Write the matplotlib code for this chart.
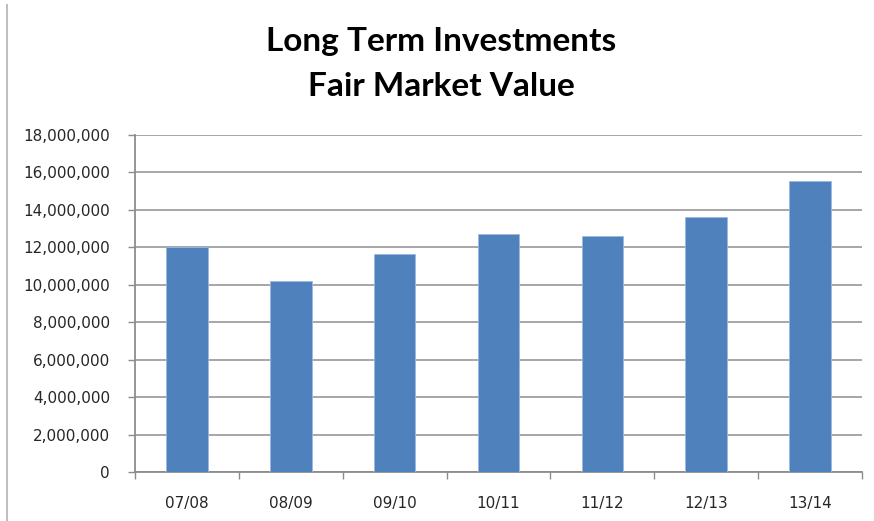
import matplotlib
matplotlib.use("Agg")
import matplotlib.pyplot as plt
from matplotlib.ticker import FuncFormatter, FixedLocator
from matplotlib.lines import Line2D

categories = ["07/08", "08/09", "09/10", "10/11", "11/12", "12/13", "13/14"]
values = [12030000, 10190000, 11650000, 12710000, 12620000, 13630000, 15540000]
yticks = [0, 2000000, 4000000, 6000000, 8000000, 10000000, 12000000, 14000000, 16000000, 18000000]
title_lines = ["Long Term Investments", "Fair Market Value"]

W, H = 874, 521
fig = plt.figure(figsize=(W / 100, H / 100), dpi=100)
fig.patch.set_facecolor("white")
ax = fig.add_axes([135 / W, 1 - 472 / H, (862 - 135) / W, (472 - 134.7) / H])

x = list(range(len(categories)))
ax.bar(x, values, width=0.4, color="#4F81BD", edgecolor="#9DB9E0", linewidth=0.6, zorder=3)

ax.set_xlim(-0.5, len(categories) - 0.5)
ax.set_ylim(yticks[0], yticks[-1])
ax.set_yticks(yticks)
ax.yaxis.set_major_formatter(FuncFormatter(lambda v, p: f"{int(v):,}"))
ax.grid(axis="y", color="#9f9f9f", linewidth=1.3, zorder=0)
ax.set_axisbelow(True)

ax.xaxis.set_major_locator(FixedLocator([i - 0.5 for i in range(len(categories) + 1)]))
ax.xaxis.set_major_formatter(FuncFormatter(lambda v, p: ""))
ax.xaxis.set_minor_locator(FixedLocator(x))
ax.set_xticklabels(categories, minor=True)

for s in ["top", "right"]:
    ax.spines[s].set_visible(False)
for s in ["left", "bottom"]:
    ax.spines[s].set_color("#8c8c8c")
    ax.spines[s].set_linewidth(1.3)

ax.tick_params(axis="y", which="major", length=5, width=1.0, color="#8c8c8c",
               labelsize=11, labelcolor="#262626", pad=13)
ax.tick_params(axis="x", which="major", length=5, width=1.0, color="#8c8c8c", direction="out")
ax.tick_params(axis="x", which="minor", length=0, labelsize=11, labelcolor="#262626", pad=17)

fig.text(441 / W, 1 - 41 / H, title_lines[0], ha="center", va="center",
         fontsize=24, fontweight="bold", family="Lato", color="black")
fig.text(441 / W, 1 - 87 / H, title_lines[1], ha="center", va="center",
         fontsize=24, fontweight="bold", family="Lato", color="black")

fig.add_artist(Line2D([6.5 / W, 6.5 / W], [0, 1 - 5 / H], transform=fig.transFigure,
                      color="#bfbfbf", linewidth=1.5))

fig.savefig("out.png", dpi=100, facecolor="white")
